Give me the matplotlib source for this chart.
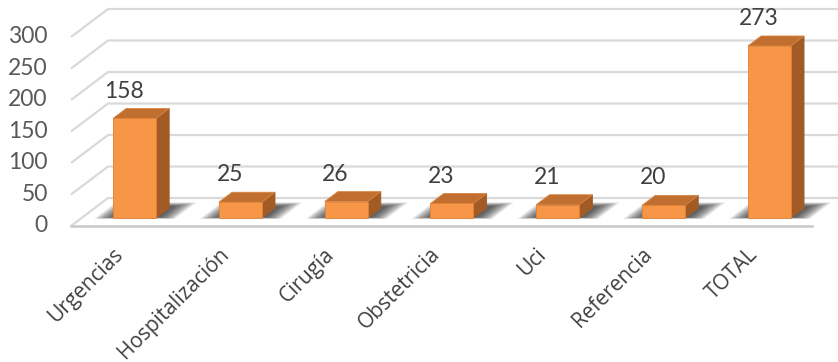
import matplotlib.pyplot as plt
from matplotlib.patches import Polygon

categorias = ['Urgencias', 'Hospitalización', 'Cirugía', 'Obstetricia', 'Uci', 'Referencia', 'TOTAL']
valores = [158, 25, 26, 23, 21, 20, 273]
ticks_y = [0, 50, 100, 150, 200, 250, 300]

# profundidad del "3D" en unidades de datos
DX = 0.35
DY = 44.4
d0 = 0.286
d1 = 0.643
ancho = 0.406


def p(x, v, d):
    return (x + d * DX, v + d * DY)


fig = plt.figure(figsize=(8.38, 3.62), dpi=100)
ax = fig.add_axes([0, 0, 1, 1])
ax.set_xlim(-1.171, 6.749)
ax.set_ylim(-215.9, 358.7)
ax.axis('off')

# rejilla (pared del fondo + lineas oblicuas)
x_izq = -0.5
x_der = 6.5
for t in ticks_y:
    a = p(x_izq, t, 0)
    b = p(x_izq, t, 1)
    ax.plot([a[0], b[0], 7.5], [a[1], b[1], b[1]], color='#d9d9d9', lw=1.6, zorder=1,
            solid_capstyle='butt')
    ax.text(-0.72, t, str(t), ha='right', va='center', fontsize=16.5, color='#595959',
            family='Lato')

# borde delantero del suelo
a = p(x_izq, 0, 0)
b = p(x_der, 0, 0)
ax.plot([a[0], b[0]], [a[1], b[1]], color='#c8c8c8', lw=1.8, zorder=2)

# sombras (paralelogramos difuminados sobre el suelo)
n = 18
for i, v in enumerate(valores):
    for k in range(n):
        f = 1 - k / n
        xl = i - ancho / 2 - 0.17 * f
        xr = i + ancho / 2 + 0.02 + 0.17 * f
        da = d0 + 0.03 - 0.06 * f
        db = d1 + 0.05 + 0.15 * f
        sombra = [p(xl, 0, da), p(xr, 0, da), p(xr, 0, db), p(xl, 0, db)]
        ax.add_patch(Polygon(sombra, closed=True, fc='#1a1a1a', alpha=0.06, lw=0, zorder=3))

# barras
for i, v in enumerate(valores):
    xl = i - ancho / 2
    xr = i + ancho / 2
    frente = [p(xl, 0, d0), p(xr, 0, d0), p(xr, v, d0), p(xl, v, d0)]
    lado = [p(xr, 0, d0), p(xr, 0, d1), p(xr, v, d1), p(xr, v, d0)]
    arriba = [p(xl, v, d0), p(xr, v, d0), p(xr, v, d1), p(xl, v, d1)]
    ax.add_patch(Polygon(lado, closed=True, fc='#a35b25', ec='#a35b25', lw=0.6, zorder=4))
    ax.add_patch(Polygon(arriba, closed=True, fc='#c06f30', ec='#d8843f', lw=0.6, zorder=4))
    ax.add_patch(Polygon(frente, closed=True, fc='#f79646', ec='#e08238', lw=0.6, zorder=5))
    t = p(i, v, d1)
    ax.text(i, t[1] + 11, str(v), ha='center', va='bottom', fontsize=16.5, color='#404040',
            family='Lato', zorder=6)

# etiquetas del eje x
for i, c in enumerate(categorias):
    ax.text(i - 0.04, -40, c, rotation=45, rotation_mode='anchor', ha='right', va='center',
            fontsize=15, color='#404040', family='Open Sans')

fig.savefig('out.png', dpi=100)
